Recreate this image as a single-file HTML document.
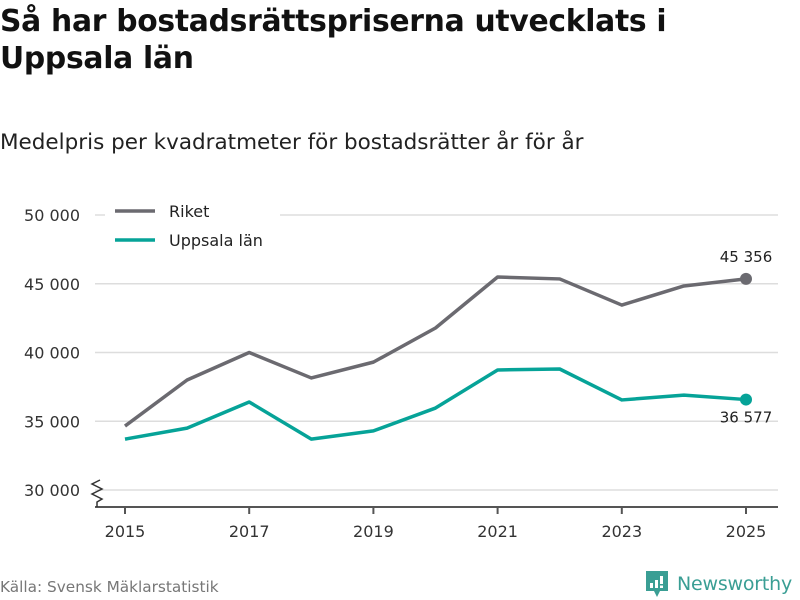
<!DOCTYPE html>
<html><head><meta charset="utf-8"><style>
body{margin:0;width:800px;height:600px;background:#fff;font-family:"Liberation Sans","DejaVu Sans",sans-serif;overflow:hidden;position:relative}
h1{position:absolute;left:0;top:3px;margin:0;font-size:29.8px;line-height:37px;font-weight:bold;color:#111;font-family:"DejaVu Sans",sans-serif;letter-spacing:-0.3px}
.sub{position:absolute;left:0;top:130px;font-size:21.5px;color:#222;font-family:"DejaVu Sans",sans-serif}
.src{position:absolute;left:0;top:578px;font-size:15.3px;color:#777;font-family:"DejaVu Sans",sans-serif}
</style></head><body>
<h1>Så har bostadsrättspriserna utvecklats i<br>Uppsala län</h1>
<div class="sub">Medelpris per kvadratmeter för bostadsrätter år för år</div>
<svg id="chart" width="800" height="600" style="position:absolute;left:0;top:0"></svg>
<div class="src">Källa: Svensk Mäklarstatistik</div>
<div style="position:absolute;left:645px;top:570px;display:flex;align-items:center">
<svg width="24" height="28" viewBox="0 0 24 28"><path d="M1 1H23V21H15L12 27L9 21H1Z" fill="#3a9e94"/><rect x="5" y="13" width="3" height="5" fill="#fff"/><rect x="10" y="10" width="3" height="8" fill="#fff"/><rect x="15" y="6" width="3" height="8" fill="#fff"/><rect x="15" y="15.5" width="3" height="2.5" fill="#fff"/></svg>
<span style="margin-left:8px;font-size:19px;color:#3a9e94;font-family:'DejaVu Sans',sans-serif;letter-spacing:-0.2px">Newsworthy</span></div>
<script>
const years=[2015,2016,2017,2018,2019,2020,2021,2022,2023,2024,2025];
const riket=[34650,38000,40000,38150,39300,41780,45490,45350,43450,44840,45356];
const uppsala=[33700,34500,36400,33700,34300,35960,38730,38800,36550,36900,36577];
const yTicks=[30000,35000,40000,45000,50000];
const xTicks=[2015,2017,2019,2021,2023,2025];
const NS="http://www.w3.org/2000/svg",svg=document.getElementById('chart');
const x=v=>125+(v-2015)*62.1, y=v=>490-(v-30000)*0.01375;
function mk(t,a,p){const e=document.createElementNS(NS,t);for(const k in a)e.setAttribute(k,a[k]);(p||svg).appendChild(e);return e;}
const fmt=v=>String(v).replace(/\B(?=(\d{3})+$)/g,' ');
yTicks.forEach(v=>{const g=mk('line',{x1:95,x2:778,y1:y(v),y2:y(v),stroke:'#ddd','stroke-width':1.5});

const t=mk('text',{x:80,y:y(v)+6,'text-anchor':'end','font-size':16,fill:'#333','font-family':'DejaVu Sans,sans-serif'});t.textContent=fmt(v);
});
const ax=mk('line',{x1:95,x2:778,y1:507,y2:507,stroke:'#555','stroke-width':2});

const br=mk('path',{d:'M100 480 L92 484 L102 489 L92 494 L102 499 L97 502 L97 507',fill:'none',stroke:'#333','stroke-width':1.5});

xTicks.forEach(v=>{const l=mk('line',{x1:x(v),x2:x(v),y1:507,y2:514,stroke:'#555','stroke-width':2});

const t=mk('text',{x:x(v),y:537,'text-anchor':'middle','font-size':16,fill:'#333','font-family':'DejaVu Sans,sans-serif'});t.textContent=v;
});
const lg=mk('rect',{x:105,y:196,width:175,height:62,fill:'#fff'});
function series(vals,col,name,labelDy){
 const p=mk('polyline',{points:vals.map((v,i)=>x(years[i])+','+y(v)).join(' '),fill:'none',stroke:col,'stroke-width':3.5,'stroke-linejoin':'round'});
 
 const n=vals.length-1;
 const c=mk('circle',{cx:x(years[n]),cy:y(vals[n]),r:6,fill:col});
 
 const t=mk('text',{x:x(years[n]),y:y(vals[n])+labelDy,'text-anchor':'middle','font-size':15,fill:'#222','font-family':'DejaVu Sans,sans-serif'});t.textContent=fmt(vals[n]);
 
}
series(riket,'#6b6a70','riket',-17);
series(uppsala,'#06a398','uppsala',23);
[['Riket','#6b6a70',211],['Uppsala län','#06a398',240]].forEach(([n,c,yy])=>{
 const l=mk('line',{x1:115,x2:155,y1:yy,y2:yy,stroke:c,'stroke-width':3.5});
 
 const t=mk('text',{x:169,y:yy+6,'font-size':16,fill:'#222','font-family':'DejaVu Sans,sans-serif'});t.textContent=n;
 
});
</script>
</body></html>
